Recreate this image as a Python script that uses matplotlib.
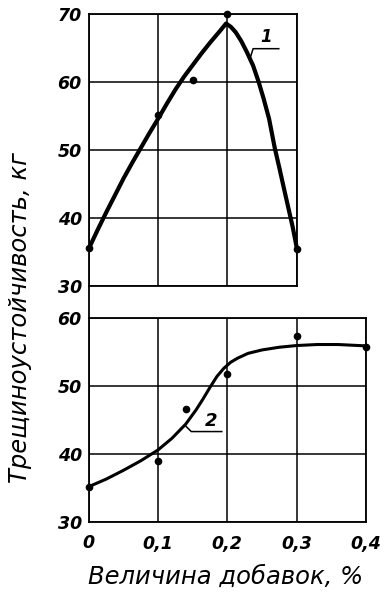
import matplotlib
matplotlib.use("Agg")
import matplotlib.pyplot as plt
from matplotlib.lines import Line2D
from matplotlib.font_manager import FontProperties

# ---- data ----
pts1_x = [0.0, 0.1, 0.15, 0.2, 0.3]
pts1_y = [35.6, 55.1, 60.3, 70.0, 35.4]
curve1_x = [0.0, 0.0125, 0.025, 0.0375, 0.05, 0.0625, 0.075, 0.0875, 0.1, 0.1125,
            0.125, 0.1375, 0.15, 0.1625, 0.175, 0.1875, 0.198, 0.205, 0.212, 0.22,
            0.228, 0.237, 0.245, 0.252, 0.26, 0.268, 0.275, 0.282, 0.288, 0.294, 0.3]
curve1_y = [35.5, 38.2, 40.8, 43.3, 45.8, 48.1, 50.3, 52.5, 54.6, 56.8,
            58.9, 60.8, 62.5, 64.2, 65.8, 67.3, 68.6, 68.1, 67.3, 66.0,
            64.4, 62.4, 60.0, 57.6, 54.6, 50.4, 47.3, 44.1, 41.4, 38.7, 35.6]

pts2_x = [0.0, 0.1, 0.14, 0.2, 0.3, 0.4]
pts2_y = [35.2, 38.9, 46.6, 51.8, 57.4, 55.8]
curve2_x = [0.0, 0.025, 0.05, 0.075, 0.1, 0.12, 0.14, 0.155, 0.165, 0.175, 0.185,
            0.195, 0.205, 0.215, 0.23, 0.25, 0.275, 0.3, 0.33, 0.36, 0.4]
curve2_y = [35.2, 36.3, 37.6, 39.0, 40.6, 42.3, 44.4, 46.5, 48.1, 49.8, 51.4,
            52.6, 53.5, 54.1, 54.8, 55.3, 55.7, 55.95, 56.1, 56.1, 55.9]

top_yticks = [30, 40, 50, 60, 70]
top_xticks = [0.0, 0.1, 0.2, 0.3]
bot_yticks = [30, 40, 50, 60]
bot_xticks = [0.0, 0.1, 0.2, 0.3, 0.4]
bot_xlabels = ["0", "0,1", "0,2", "0,3", "0,4"]
ylabel = "Трещиноустойчивость, кг"
xlabel = "Величина добавок, %"

W, H = 387, 593
fig = plt.figure(figsize=(W / 100, H / 100), dpi=100)
fig.patch.set_facecolor("white")

L = 88.8 / W
ax1 = fig.add_axes([L, 1 - 286 / H, 208 / W, 272 / H])
ax2 = fig.add_axes([L, 1 - 522 / H, 277 / W, 204 / H])

tickfp = FontProperties(family="DejaVu Sans", style="italic", weight="bold", size=12.5)
lw_grid = 1.1

def style(ax, xt, yt, xlim, ylim):
    ax.set_xlim(*xlim)
    ax.set_ylim(*ylim)
    ax.set_xticks(xt)
    ax.set_yticks(yt)
    ax.grid(True, color="black", linewidth=lw_grid)
    ax.tick_params(length=0, pad=5)
    for s in ax.spines.values():
        s.set_linewidth(1.3)
        s.set_color("black")

style(ax1, top_xticks, top_yticks, (0, 0.3), (30, 70))
ax1.set_xticklabels([])
ax1.set_yticklabels([str(v) for v in top_yticks])
for lab in ax1.get_yticklabels():
    lab.set_fontproperties(tickfp)

style(ax2, bot_xticks, bot_yticks, (0, 0.4), (30, 60))
ax2.set_yticklabels([str(v) for v in bot_yticks])
ax2.set_xticklabels(bot_xlabels)
for lab in ax2.get_yticklabels() + ax2.get_xticklabels():
    lab.set_fontproperties(tickfp)
ax2.tick_params(axis="x", pad=9)

# curves and points
ax1.plot(curve1_x, curve1_y, color="black", lw=3.0, solid_capstyle="round",
         solid_joinstyle="round", clip_on=False, zorder=3)
ax1.plot(pts1_x, pts1_y, "o", color="black", ms=4.5, clip_on=False, zorder=4)
ax2.plot(curve2_x, curve2_y, color="black", lw=2.2, solid_capstyle="round",
         solid_joinstyle="round", clip_on=False, zorder=3)
ax2.plot(pts2_x, pts2_y, "o", color="black", ms=4.5, clip_on=False, zorder=4)

# curve labels with leaders
ax1.plot([0.233, 0.237, 0.274], [63.6, 64.9, 64.9], color="black", lw=1.1)
ax1.text(0.256, 65.3, "1", ha="center", va="bottom", fontsize=12,
         fontstyle="italic", fontweight="bold")
ax2.plot([0.139, 0.148, 0.192], [44.2, 43.3, 43.3], color="black", lw=1.1)
ax2.text(0.176, 43.6, "2", ha="center", va="bottom", fontsize=13,
         fontstyle="italic", fontweight="bold")

# continuous left spine between panels
fig.add_artist(Line2D([L, L], [1 - 286 / H, 1 - 318 / H], color="black",
                      lw=1.3, transform=fig.transFigure))

fig.text(20 / W, 1 - 318 / H, ylabel, rotation=90, ha="center", va="center",
         fontsize=17.5, fontstyle="italic", family="DejaVu Sans")
fig.text(226 / W, 1 - 577 / H, xlabel, ha="center", va="center",
         fontsize=17.5, fontstyle="italic", family="DejaVu Sans")

fig.savefig("out.png", dpi=100, facecolor="white")
